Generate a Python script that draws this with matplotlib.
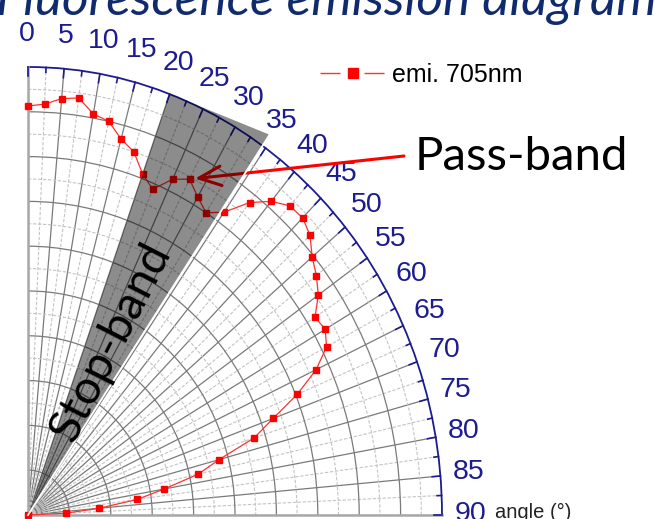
import numpy as np
import matplotlib
matplotlib.use("Agg")
import matplotlib.pyplot as plt
from matplotlib.lines import Line2D
from matplotlib import transforms

# emission intensity vs. angle, one sample every 2.5 deg
angle_deg = np.arange(0, 90.1, 2.5)
emi_705 = [0.913, 0.918, 0.933, 0.939, 0.909, 0.900, 0.869, 0.850, 0.810, 0.787,
           0.827, 0.845, 0.820, 0.800, 0.825, 0.879, 0.914, 0.936, 0.938, 0.924,
           0.896, 0.878, 0.856, 0.822, 0.829, 0.813, 0.768, 0.704, 0.630, 0.573,
           0.478, 0.421, 0.334, 0.266, 0.172, 0.092, 0.0]

tick_deg = list(range(0, 91, 5))
tick_labels = [str(t) for t in tick_deg]
stop_band = (20.0, 34.5)   # deg
passband_point = 27.5      # deg, where the arrow points

navy = "#1c1c90"
red = "#ff0000"

fig = plt.figure(figsize=(6.54, 5.19), dpi=100)
W, H = 654, 519
ax = fig.add_axes([28 / W, 4 / H, 414 / W, 448 / H], projection="polar")
ax.set_theta_zero_location("N")
ax.set_theta_direction(-1)
ax.set_thetamin(0)
ax.set_thetamax(90)
ax.set_ylim(0, 1)
ax.set_aspect("auto")

# grid
ax.set_xticks(np.deg2rad(tick_deg))
ax.set_xticks(np.deg2rad(np.arange(2.5, 90, 5)), minor=True)
ax.set_yticks(np.arange(0.1, 0.95, 0.1))
ax.set_yticks(np.arange(0.05, 1.0, 0.1), minor=True)
ax.set_xticklabels([])
ax.set_yticklabels([])
ax.tick_params(axis="y", which="both", length=0)
ax.grid(which="major", color="#7a7a7a", lw=0.9)
ax.grid(which="minor", color="#c4c4c4", lw=0.8, ls=(0, (3, 1.5)))

ax.spines["polar"].set_color(navy)
ax.spines["polar"].set_linewidth(1.3)
for s in ("start", "end"):
    ax.spines[s].set_color("#a8a8a8")
    ax.spines[s].set_linewidth(1.8)

# tick marks on the outer arc, pointing inward
for t in np.arange(0, 90.1, 2.5):
    ln = 0.02 if t % 5 == 0 else 0.011
    ax.plot([np.deg2rad(t)] * 2, [1 - ln, 1], color=navy, lw=1.2,
            clip_on=False, zorder=3)

lab_trans = transforms.offset_copy(ax.transData, fig=fig, x=-1, y=1, units="dots")
for t, lab in zip(tick_deg, tick_labels):
    ax.text(np.deg2rad(t), 1.072, lab, transform=lab_trans, ha="center", va="center",
            fontsize=20.5, color=navy, family="Liberation Sans", clip_on=False)

fig.text(495 / W, 1 / H, "angle (°)", fontsize=14.5, color="#222222",
         family="Liberation Sans", ha="left", va="baseline")

# data
th = np.deg2rad(angle_deg)
ax.plot(th, emi_705, color="#ff3030", lw=0.9, marker="s", ms=5,
        mfc=red, mec=red, zorder=3.5, clip_on=False)

# arrow to the pass-band
i = list(angle_deg).index(passband_point)
ax.annotate("", xy=(np.deg2rad(passband_point), emi_705[i]), xycoords="data",
            xytext=(404, H - 156), textcoords="figure pixels",
            arrowprops=dict(arrowstyle="->,head_length=0.8,head_width=0.35",
                            mutation_scale=20, color="#ff0000", lw=2.2,
                            shrinkA=0, shrinkB=4),
            zorder=4, annotation_clip=False)

# stop-band shading over everything
t0, t1 = np.deg2rad(stop_band)
ax.fill([0, t0, t1], [0, 1.0, 1.03], color="black", alpha=0.45, lw=0,
        zorder=5, clip_on=False)
ax.plot([0, t1], [0, 1.03], color="white", lw=1.3, zorder=5.5, clip_on=False)

ax.text(np.deg2rad(27.2), 0.435, "Stop-band", rotation=63, rotation_mode="anchor",
        ha="center", va="center", fontsize=34, family="Lato", color="black",
        zorder=6)
fig.text(415 / W, 1 - 170 / H, "Pass-band", fontsize=34, family="Lato",
         color="black", ha="left", va="baseline")

fig.text(-4 / W, 1 - 15 / H, "Fluorescence emission diagram", fontsize=37,
         family="Lato", style="italic", color="#102a6e", ha="left", va="baseline")

# legend
proxy = Line2D([], [], color="#ff3030", lw=1, ls=(0, (14.4, 17.3)), marker="s",
               ms=6.5, mfc=red, mec=red)
fig.legend([proxy], ["emi. 705nm"], loc="center left",
           bbox_to_anchor=(320 / W, 1 - 75 / H), frameon=False,
           prop={"family": "Liberation Sans", "size": 18},
           handlelength=2.6, handletextpad=0.3, borderpad=0, borderaxespad=0)

fig.savefig("out.png", dpi=100)
